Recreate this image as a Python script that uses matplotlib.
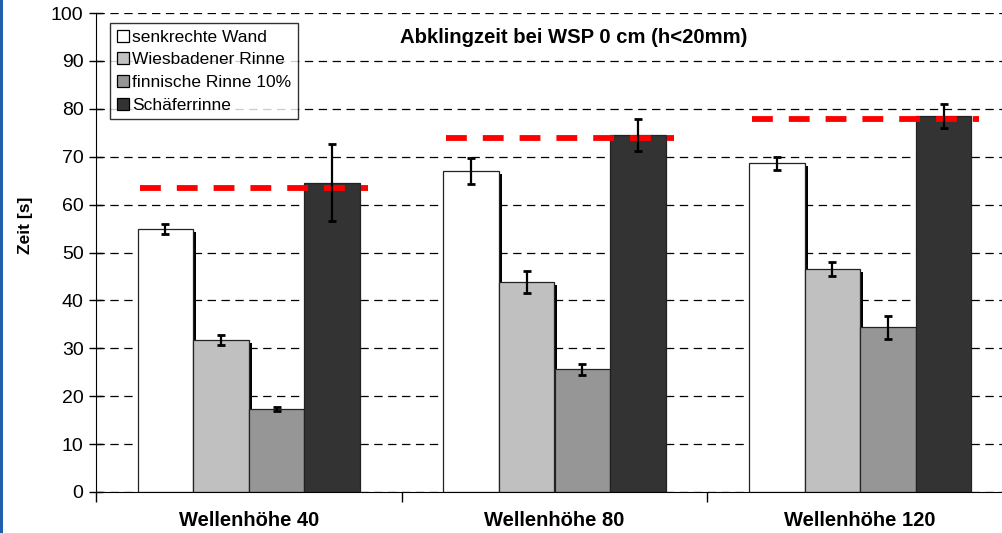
import matplotlib
matplotlib.use("Agg")
from matplotlib import pyplot as plt
from matplotlib.patches import Rectangle
import numpy as np

plt.rcParams['font.family'] = ['Liberation Sans', 'DejaVu Sans']
plt.rcParams['lines.scale_dashes'] = False

# Daten
kategorien = ["Wellenhöhe 40", "Wellenhöhe 80", "Wellenhöhe 120"]
serien = ["senkrechte Wand", "Wiesbadener Rinne", "finnische Rinne 10%", "Schäferrinne"]
werte = [
    [54.9, 67.0, 68.6],
    [31.7, 43.8, 46.6],
    [17.3, 25.6, 34.4],
    [64.6, 74.5, 78.5],
]
fehler = [
    [1.0, 2.8, 1.3],
    [1.0, 2.3, 1.5],
    [0.4, 1.2, 2.4],
    [8.0, 3.3, 2.5],
]
referenz = [63.5, 74.0, 77.8]  # rote Linie
farben = ["#FFFFFF", "#C0C0C0", "#969696", "#333333"]

fig = plt.figure(figsize=(10.03, 5.33), dpi=100)
ax = fig.add_axes([96 / 1003, 41 / 533, 917 / 1003, 479 / 533])

x = np.arange(len(kategorien))
breite = 0.182
px_x = 1 / 306.0
px_y = 100 / 479.0

for i, name in enumerate(serien):
    pos = x + (i - 1.5) * breite
    # Schatten rechts neben den Balken
    if i < 3:
        for p, h in zip(pos, werte[i]):
            ax.add_patch(Rectangle((p + breite / 2, 0), 3 * px_x, h - 3 * px_y,
                                   facecolor="black", edgecolor="none", zorder=1.5))
    ax.bar(pos, werte[i], breite, color=farben[i], edgecolor="#222222",
           linewidth=0.9, label=name, zorder=2)
    ax.errorbar(pos, werte[i], yerr=fehler[i], fmt="none", ecolor="black",
                elinewidth=1.6, capsize=3, capthick=2, zorder=4)

for xi, r in zip(x, referenz):
    linie, = ax.plot([xi - 0.355, xi + 0.39], [r, r], color="#FF0000",
                     linewidth=4.2, solid_capstyle="butt", zorder=3)
    linie.set_dashes([15, 11.5])
    linie.set_dash_capstyle("butt")

ax.set_xlim(-0.5, 2.5)
ax.set_ylim(0, 100)
ax.set_yticks(np.arange(0, 101, 10))
ax.set_xticks(x)
ax.set_xticklabels(kategorien, fontsize=14.5, fontweight="bold")
ax.set_xticks([-0.5, 0.5, 1.5, 2.5], minor=True)
ax.tick_params(axis="x", which="major", length=0, pad=14)
ax.tick_params(axis="x", which="minor", length=7, width=1, direction="out")
ax.tick_params(axis="y", labelsize=14, length=10, width=1, direction="inout", pad=4)

ax.yaxis.grid(True, color="black", linestyle=(0, (6, 4)), linewidth=0.9)
ax.set_axisbelow(True)
ax.spines["top"].set_visible(False)
ax.spines["right"].set_visible(False)

ax.set_ylabel("Zeit [s]", fontsize=12.5, fontweight="bold")
ax.yaxis.set_label_coords(-0.069, 0.557)
ax.text(0.521, 94.8, "Abklingzeit bei WSP 0 cm (h<20mm)", transform=ax.get_yaxis_transform(),
        ha="center", va="center", fontsize=14.6, fontweight="bold")

leg = ax.legend(loc="upper left", bbox_to_anchor=(0.0153, 0.979), borderaxespad=0,
                fontsize=12.5, frameon=True, fancybox=False, handlelength=0.7,
                handleheight=0.7, handletextpad=0.2, labelspacing=0.43, borderpad=0.38)
leg.get_frame().set_edgecolor("black")
leg.get_frame().set_linewidth(1.0)
for h in leg.legend_handles:
    h.set_edgecolor("black")

# blauer Rand links
fig.add_artist(Rectangle((0, 0), 3 / 1003, 1, transform=fig.transFigure,
                         facecolor="#1F5FAE", edgecolor="none"))

fig.savefig("out.png", dpi=100)
